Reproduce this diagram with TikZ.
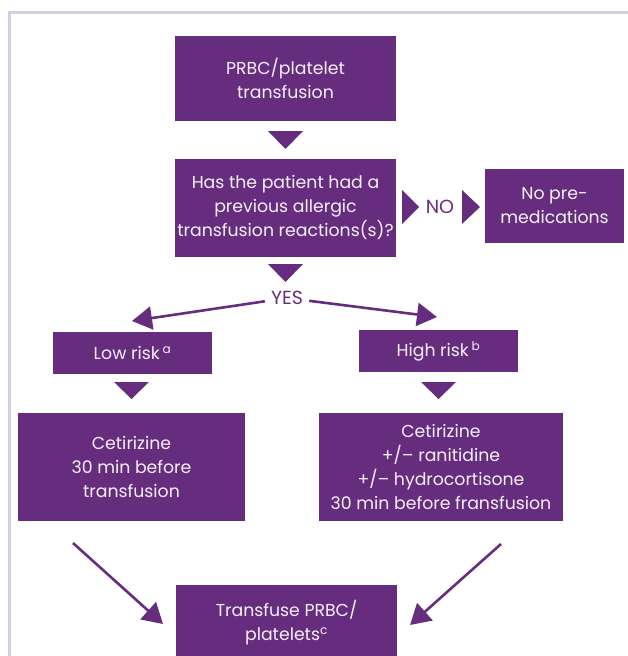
\documentclass[tikz,border=0pt]{standalone}
\usepackage{fontspec}
\setmainfont{Poppins}
\usetikzlibrary{arrows.meta}
\definecolor{pur}{HTML}{662D7F}
\definecolor{framec}{HTML}{D9CCE5}
\definecolor{boxtext}{HTML}{F5F0F8}
\begin{document}
\begin{tikzpicture}[x=1pt,y=-1pt,
  box/.style={fill=pur, text=boxtext, inner sep=0pt, align=center,
    font=\fontsize{17.3}{24}\selectfont},
  lbl/.style={text=pur, inner sep=6pt, font=\fontsize{19}{22}\selectfont},
  arr/.style={draw=pur, line width=2.6pt, -{Triangle[length=20pt,width=23pt]}},
  tri/.style={fill=pur},
  framestyle/.style={draw=framec, line width=3pt}]
\useasboundingbox (0,0) rectangle (627,656);
\draw[framestyle] (9.5,660) -- (9.5,12.5) -- (630,12.5);

\node[box, minimum width=221pt, minimum height=85pt] (b1) at (285.5,78.5) {PRBC/platelet\\transfusion};
\node[box, minimum width=221pt, minimum height=98pt] (q) at (285.5,208) {Has the patient had a\\previous allergic\\transfusion reactions(s)?};
\node[box, minimum width=139pt, minimum height=74pt] (no) at (554.5,206) {No pre-\\medications};
\node[lbl, inner sep=0pt] (nolbl) at (440,207) {NO};
\node[lbl] (yes) at (287,298) {YES};
\node[box, minimum width=159pt, minimum height=42pt] (low) at (132.5,353) {Low risk\,\textsuperscript{a}};
\node[box, minimum width=159pt, minimum height=42pt] (high) at (438.5,351) {High risk\,\textsuperscript{b}};
\node[box, minimum width=227pt, minimum height=108pt] (cetl) at (131.5,467) {Cetirizine\\30 min before\\transfusion};
\node[box, minimum width=244pt, minimum height=108pt] (cetr) at (441,467) {Cetirizine\\+/-- ranitidine\\+/-- hydrocortisone\\30 min before fransfusion};
\node[box, minimum width=221pt, minimum height=75pt] (tp) at (286.5,622.5) {Transfuse PRBC/\\platelets\textsuperscript{c}};

% triangular pointers
\fill[tri] (268,131) -- (303,131) -- (285.5,149) -- cycle;
\fill[tri] (268,264) -- (303,264) -- (285.5,282) -- cycle;
\fill[tri] (114,382) -- (149,382) -- (131.5,399) -- cycle;
\fill[tri] (421,382) -- (456,382) -- (438.5,399) -- cycle;
\fill[tri] (402,190) -- (419,207) -- (402,224) -- cycle;
\fill[tri] (462,190) -- (480,207) -- (462,224) -- cycle;

% arrows
\coordinate (lowtip) at (132,321);
\coordinate (hightip) at (437,317);
\draw[arr] (yes) -- (lowtip);
\draw[arr] (yes) -- (hightip);
\coordinate (ls) at (73,543);
\coordinate (le) at (163,624);
\coordinate (rs) at (501,544);
\coordinate (re) at (410,625);
\draw[arr] (ls) -- (le);
\draw[arr] (rs) -- (re);
\end{tikzpicture}
\end{document}
